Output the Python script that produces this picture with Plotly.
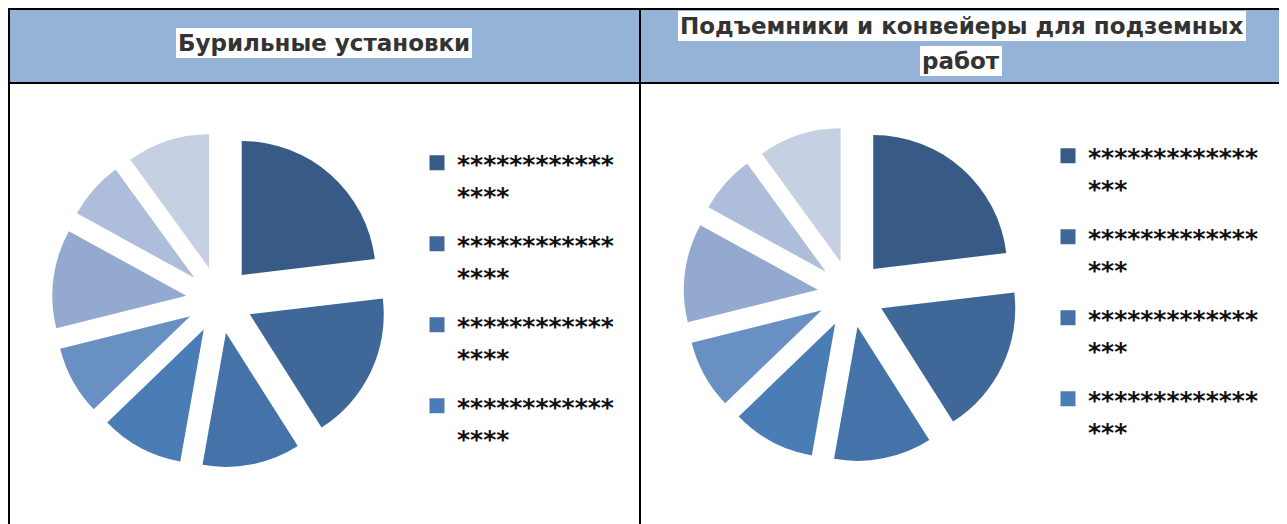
import plotly.graph_objects as go

# the page body has an 8px margin, so the figure is 8px smaller and all
# positions below are given in window pixels and shifted by OFF
OFF = 8
W, H = 1287 - OFF, 524 - OFF

# titles of the two table cells
left_title = "Бурильные установки"
right_title = ["Подъемники и конвейеры для подземных", "работ"]

# masked category names (as in the source) and slice shares
categories = ["****************"] * 8
drill_values = [23.1, 17.9, 11.8, 10.0, 8.3, 11.9, 7.0, 10.0]
lift_values = [23.1, 17.9, 11.8, 10.0, 8.3, 11.9, 7.0, 10.0]
colors = ["#375A86", "#3F6898", "#4573A9", "#4A7CB5",
          "#6890C3", "#94A9CF", "#AEBEDA", "#C6D0E3"]


def px(x):
    return (x - OFF) / W


def py(y):
    return 1 - (y - OFF) / H


fig = go.Figure()

# pies
fig.add_trace(go.Pie(values=drill_values, sort=False, direction="clockwise", pull=0.25,
                     marker=dict(colors=colors), textinfo="none", showlegend=False,
                     domain=dict(x=[px(52), px(387)], y=[py(467.5), py(132.5)])))
fig.add_trace(go.Pie(values=lift_values, sort=False, direction="clockwise", pull=0.25,
                     marker=dict(colors=colors), textinfo="none", showlegend=False,
                     domain=dict(x=[px(683.5), px(1018.5)], y=[py(461.5), py(126.5)])))

# legends (only first 4 entries are visible in the source)
for i in range(4):
    lab = categories[i]
    fig.add_trace(go.Scatter(x=[None], y=[None], mode="markers", name=lab[:12] + "<br>" + lab[12:],
                             marker=dict(symbol="square", size=15, color=colors[i]),
                             legend="legend", legendgroup="l%d" % i))
    fig.add_trace(go.Scatter(x=[None], y=[None], mode="markers", name=lab[:13] + "<br>" + lab[13:],
                             marker=dict(symbol="square", size=15, color=colors[i]),
                             legend="legend2", legendgroup="r%d" % i))

legend_style = dict(xanchor="left", yanchor="top", valign="top", traceorder="grouped",
                    tracegroupgap=13, bgcolor="rgba(0,0,0,0)", borderwidth=0,
                    font=dict(family="DejaVu Sans", size=25, color="#111111", weight="bold"))

# table grid
shapes = [
    dict(type="rect", xref="paper", yref="paper", x0=px(8), x1=px(1283), y0=py(83), y1=py(8.5),
         fillcolor="#95B3D7", line=dict(width=0), layer="below"),
]
for y in [9, 83]:
    shapes.append(dict(type="line", xref="paper", yref="paper", x0=px(8), x1=px(1284), y0=py(y), y1=py(y),
                       line=dict(color="black", width=2)))
for x in [9, 640, 1283]:
    shapes.append(dict(type="line", xref="paper", yref="paper", x0=px(x), x1=px(x), y0=py(8), y1=0,
                       line=dict(color="black", width=2)))

title_font = dict(family="DejaVu Sans", size=23, color="#333333", weight="bold")
title_pos = [(left_title, 323.5, 42.5), (right_title[0], 962, 26), (right_title[1], 961, 61.5)]
annotations = [
    dict(text=t, x=px(x), y=py(y), xref="paper", yref="paper", xanchor="center", yanchor="middle",
         showarrow=False, font=title_font, bgcolor="white", borderpad=2, borderwidth=0)
    for t, x, y in title_pos
]

fig.update_layout(
    width=W, height=H, margin=dict(l=0, r=0, t=0, b=0),
    paper_bgcolor="white", plot_bgcolor="white",
    xaxis=dict(visible=False), yaxis=dict(visible=False),
    legend=dict(x=px(417), y=py(140), **legend_style),
    legend2=dict(x=px(1048), y=py(133), **legend_style),
    shapes=shapes, annotations=annotations,
)

fig.write_html("out.html")
